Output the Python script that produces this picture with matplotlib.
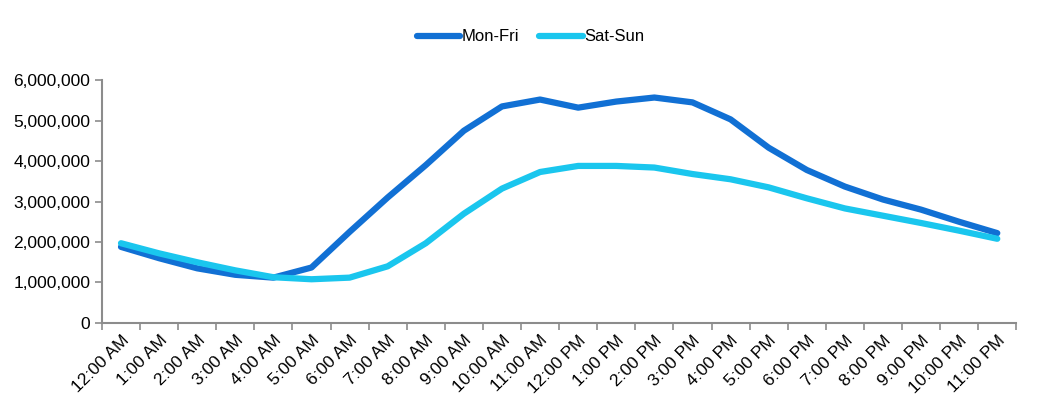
import numpy as np
import matplotlib.pyplot as plt
from matplotlib.ticker import FuncFormatter, FixedLocator

plt.rcParams['font.family'] = ['Liberation Sans', 'DejaVu Sans']

hours = ["12:00 AM", "1:00 AM", "2:00 AM", "3:00 AM", "4:00 AM", "5:00 AM",
         "6:00 AM", "7:00 AM", "8:00 AM", "9:00 AM", "10:00 AM", "11:00 AM",
         "12:00 PM", "1:00 PM", "2:00 PM", "3:00 PM", "4:00 PM", "5:00 PM",
         "6:00 PM", "7:00 PM", "8:00 PM", "9:00 PM", "10:00 PM", "11:00 PM"]

mon_fri = [1880000, 1600000, 1350000, 1190000, 1120000, 1370000,
           2250000, 3100000, 3900000, 4750000, 5350000, 5520000,
           5320000, 5470000, 5570000, 5450000, 5030000, 4330000,
           3780000, 3370000, 3050000, 2800000, 2500000, 2220000]

sat_sun = [1970000, 1720000, 1500000, 1300000, 1130000, 1080000,
           1120000, 1400000, 1970000, 2700000, 3320000, 3730000,
           3880000, 3880000, 3840000, 3680000, 3550000, 3350000,
           3080000, 2830000, 2650000, 2470000, 2280000, 2080000]

fig = plt.figure(figsize=(10.51, 4.13), dpi=100)
ax = fig.add_axes([0.097, 0.218, 0.870, 0.588])

x = np.arange(len(hours))
ax.plot(x, mon_fri, color="#1170D4", linewidth=4.5, solid_capstyle="round",
        solid_joinstyle="round", label="Mon-Fri")
ax.plot(x, sat_sun, color="#1AC6EE", linewidth=4.5, solid_capstyle="round",
        solid_joinstyle="round", label="Sat-Sun")

ax.set_xlim(-0.5, len(hours) - 0.5)
ax.set_ylim(0, 6000000)
ax.set_yticks(np.arange(0, 6000001, 1000000))
ax.yaxis.set_major_formatter(FuncFormatter(lambda v, p: f"{int(v):,}"))

# category boundaries carry the tick marks, labels sit at the centres
ax.xaxis.set_major_locator(FixedLocator(np.arange(-0.5, len(hours), 1.0)))
ax.set_xticklabels([])
ax.set_xticks(x, minor=True)
ax.set_xticklabels(hours, minor=True, rotation=45, ha="right",
                   rotation_mode="anchor", fontsize=12.5)
ax.tick_params(axis="x", which="minor", length=0, pad=7)
ax.tick_params(axis="x", which="major", length=5, color="#8c8c8c", width=1.2)
ax.tick_params(axis="y", length=5, color="#8c8c8c", width=1.2, labelsize=12.5)

for side in ["top", "right"]:
    ax.spines[side].set_visible(False)
for side in ["left", "bottom"]:
    ax.spines[side].set_color("#8c8c8c")
    ax.spines[side].set_linewidth(1.5)

fig.legend(loc="upper center", bbox_to_anchor=(0.505, 0.965), ncol=2,
           frameon=False, fontsize=12, handlelength=2.6, handletextpad=0.1,
           columnspacing=1.2)

plt.savefig("out.png", dpi=100)
